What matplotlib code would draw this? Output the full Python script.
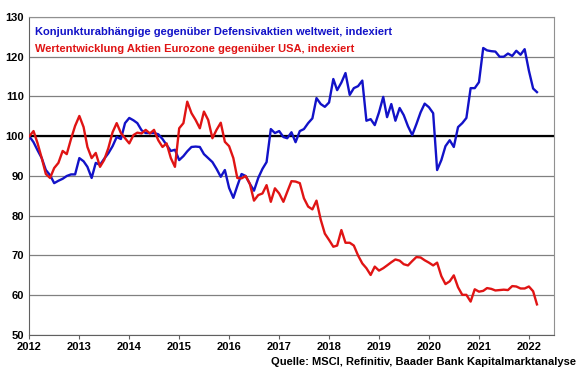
import pandas as pd
import matplotlib.pyplot as plt
import matplotlib.dates as mdates

plt.rcParams['font.family'] = ['Liberation Sans', 'DejaVu Sans']

# monthly values, Jan 2012 - Mar 2022
blue_2012 = [100, 98.5, 96.5, 94.5, 91.5, 90.2, 88.2, 88.8, 89.3, 90.0, 90.4, 90.4]
blue_2013 = [94.5, 93.7, 92.3, 89.5, 93.3, 92.8, 94.3, 95.7, 97.5, 99.8, 99.3, 103.3]
blue_2014 = [104.6, 104.0, 103.3, 101.5, 100.8, 100.8, 100.8, 100.5, 99.3, 97.8, 96.3, 96.6]
blue_2015 = [94.0, 95.0, 96.2, 97.3, 97.4, 97.3, 95.5, 94.5, 93.5, 91.8, 89.8, 91.5]
blue_2016 = [87.0, 84.5, 87.5, 90.5, 90.0, 88.0, 86.3, 89.5, 91.8, 93.5, 101.8, 100.8]
blue_2017 = [101.3, 99.8, 99.5, 101.0, 98.5, 101.3, 101.8, 103.3, 104.5, 109.6, 108.1, 107.4]
blue_2018 = [108.5, 114.4, 111.6, 113.5, 115.9, 110.4, 112.1, 112.6, 114.0, 103.9, 104.3, 102.8]
blue_2019 = [106.0, 109.9, 104.8, 108.1, 103.9, 107.1, 105.3, 102.5, 100.3, 103.0, 106.0, 108.2]
blue_2020 = [107.3, 105.8, 91.5, 94.0, 97.5, 99.0, 97.3, 102.3, 103.3, 104.6, 112.1, 112.1]
blue_2021 = [113.6, 122.2, 121.6, 121.4, 121.3, 120.0, 120.0, 120.8, 120.2, 121.5, 120.5, 121.9]
blue_2022 = [116.5, 112.0, 111.1]

red_2012 = [100, 101.3, 98.3, 94.5, 90.5, 89.5, 92.0, 93.3, 96.3, 95.5, 99.3, 102.6]
red_2013 = [105.1, 102.3, 97.3, 94.5, 95.8, 92.3, 94.0, 97.0, 101.0, 103.3, 100.8, 99.5]
red_2014 = [98.2, 100.3, 100.9, 100.7, 101.6, 100.7, 101.6, 99.0, 97.3, 98.2, 94.5, 92.3]
red_2015 = [102.0, 103.3, 108.7, 105.8, 104.1, 102.0, 106.2, 104.1, 99.5, 101.6, 103.4, 98.6]
red_2016 = [97.5, 94.5, 89.5, 89.4, 90.0, 88.0, 83.8, 85.2, 85.6, 87.7, 83.5, 86.9]
red_2017 = [85.6, 83.5, 86.0, 88.7, 88.6, 88.2, 84.4, 82.3, 81.6, 83.8, 79.0, 75.5]
red_2018 = [73.9, 72.2, 72.5, 76.4, 73.2, 73.2, 72.5, 70.0, 68.0, 66.8, 65.1, 67.2]
red_2019 = [66.2, 66.8, 67.5, 68.3, 69.0, 68.7, 67.8, 67.5, 68.6, 69.6, 69.5, 68.8]
red_2020 = [68.2, 67.5, 68.2, 64.8, 62.8, 63.5, 65.0, 62.0, 60.1, 60.1, 58.4, 61.5]
red_2021 = [60.9, 61.1, 61.8, 61.6, 61.2, 61.3, 61.4, 61.3, 62.3, 62.2, 61.7, 61.7]
red_2022 = [62.2, 61.0, 57.7]

blue = (blue_2012 + blue_2013 + blue_2014 + blue_2015 + blue_2016 + blue_2017
        + blue_2018 + blue_2019 + blue_2020 + blue_2021 + blue_2022)
red = (red_2012 + red_2013 + red_2014 + red_2015 + red_2016 + red_2017
       + red_2018 + red_2019 + red_2020 + red_2021 + red_2022)
dates = pd.date_range("2012-01-01", periods=len(blue), freq="MS")

blue_label = "Konjunkturabhängige gegenüber Defensivaktien weltweit, indexiert"
red_label = "Wertentwicklung Aktien Eurozone gegenüber USA, indexiert"
source = "Quelle: MSCI, Refinitiv, Baader Bank Kapitalmarktanalyse"

c_blue = "#1212c8"
c_red = "#e01414"

fig = plt.figure(figsize=(5.8, 3.75), dpi=100)
ax = fig.add_axes([0.0505, 0.1067, 0.905, 0.848])

ax.set_ylim(50, 130)
ax.set_yticks(range(50, 131, 10))
ax.set_xlim(pd.Timestamp("2012-01-01"), pd.Timestamp("2022-07-05"))
ax.xaxis.set_major_locator(mdates.YearLocator())
ax.xaxis.set_major_formatter(mdates.DateFormatter("%Y"))

ax.grid(axis="y", color="#808080", lw=0.9)
ax.set_axisbelow(True)
ax.axhline(100, color="black", lw=1.6, zorder=2)

ax.plot(dates, blue, color=c_blue, lw=1.7, zorder=3)
ax.plot(dates, red, color=c_red, lw=1.7, zorder=3)

for s in ["top", "right"]:
    ax.spines[s].set_color("#909090")
for s in ["left", "bottom"]:
    ax.spines[s].set_color("#606060")
ax.tick_params(axis="y", length=0, pad=4, labelsize=8)
ax.tick_params(axis="x", length=3, color="#606060", pad=2, labelsize=8)
for lab in ax.get_xticklabels() + ax.get_yticklabels():
    lab.set_fontweight("bold")

ax.text(0.011, 0.97, blue_label, transform=ax.transAxes, color=c_blue,
        fontsize=8.0, fontweight="bold", va="top")
ax.text(0.011, 0.915, red_label, transform=ax.transAxes, color=c_red,
        fontsize=8.0, fontweight="bold", va="top")
fig.text(0.993, 0.035, source, ha="right", va="center", fontsize=8.0,
         fontweight="bold")

plt.savefig("out.png", dpi=100)
